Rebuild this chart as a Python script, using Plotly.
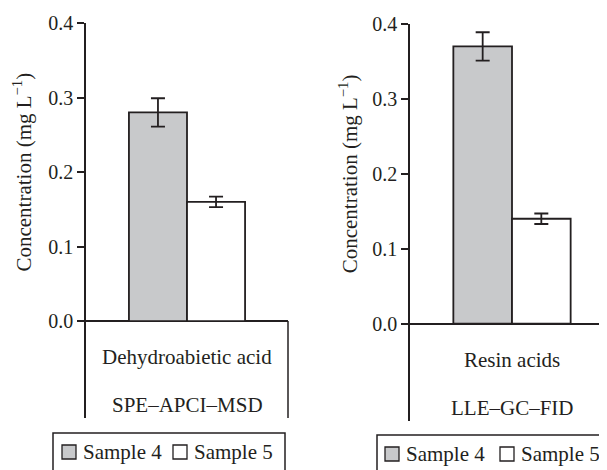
import plotly.graph_objects as go

# ---- data ----
series_names = ["Sample 4", "Sample 5"]
left_category = ["Dehydroabietic acid"]
left_method = "SPE–APCI–MSD"
left_values = {"Sample 4": [0.28], "Sample 5": [0.16]}
left_errors = {"Sample 4": [0.019], "Sample 5": [0.007]}

right_category = ["Resin acids"]
right_method = "LLE–GC–FID"
right_values = {"Sample 4": [0.37], "Sample 5": [0.14]}
right_errors = {"Sample 4": [0.019], "Sample 5": [0.007]}

y_ticks = [0.0, 0.1, 0.2, 0.3, 0.4]
y_title = "Concentration (mg L<sup>−1</sup>)"

# ---- style ----
FONT = '"Liberation Serif", "Times New Roman", Times, serif'
INK = "#231f20"
fills = {"Sample 4": "#c8c9cb", "Sample 5": "#ffffff"}

# the page places the figure 8 px in from the top-left corner
OFF = 8
W, H = 607 - OFF, 470 - OFF


def px(x):
    return (x - OFF) / W


def py(y):
    return 1 - (y - OFF) / H


fig = go.Figure()

for cats, vals, errs, xa, ya in [
    (left_category, left_values, left_errors, "x", "y"),
    (right_category, right_values, right_errors, "x2", "y2"),
]:
    for s in series_names:
        fig.add_trace(go.Bar(
            x=cats, y=vals[s], name=s, showlegend=False,
            marker=dict(color=fills[s], line=dict(color=INK, width=1.8)),
            error_y=dict(type="data", array=errs[s], color=INK, thickness=1.8, width=7),
            xaxis=xa, yaxis=ya,
        ))

axis_common = dict(showgrid=False, zeroline=False, automargin=False)
yaxis_common = dict(
    range=[-0.13, 0.4], tickvals=y_ticks, tickformat=".1f",
    ticks="outside", ticklen=7, tickwidth=1.5, tickcolor=INK,
    showline=True, linecolor=INK, linewidth=1.5,
    zeroline=True, zerolinecolor=INK, zerolinewidth=1.5,
    showgrid=False, automargin=False,
    tickfont=dict(family=FONT, size=20, color=INK),
)

fig.update_layout(
    width=W, height=H,
    margin=dict(l=0, r=0, t=0, b=0),
    paper_bgcolor="white", plot_bgcolor="white",
    barmode="group", bargap=0.425, bargroupgap=0,
    font=dict(family=FONT, color=INK),
    showlegend=False,
    xaxis=dict(domain=[px(86), px(288)], range=[-0.5, 0.5], anchor="y",
               showticklabels=False, ticks="", showline=False, **axis_common),
    xaxis2=dict(domain=[px(410), 1.0], range=[-0.5, 0.4657], anchor="y2",
                showticklabels=False, ticks="", showline=False, **axis_common),
    yaxis=dict(domain=[py(418), py(23)], anchor="x", **yaxis_common),
    yaxis2=dict(domain=[py(421), py(24)], anchor="x2", **yaxis_common),
)

# y-axis titles, centred on the 0–0.4 tick span
for title_x, ya in [(22.5, "y"), (348.5, "y2")]:
    fig.add_annotation(x=px(title_x), y=(y_ticks[0] + y_ticks[-1]) / 2, xref="paper", yref=ya,
                       text=y_title, textangle=-90, showarrow=False,
                       xanchor="center", yanchor="middle",
                       font=dict(family=FONT, size=21, color=INK))

# category and method labels below the zero line
for cats, method, xa, ya in [
    (left_category, left_method, "x", "y"),
    (right_category, right_method, "x2", "y2"),
]:
    fig.add_annotation(x=cats[0], y=-0.048, xref=xa, yref=ya, text=cats[0],
                       showarrow=False, font=dict(family=FONT, size=21, color=INK))
    fig.add_annotation(x=cats[0], y=-0.112, xref=xa, yref=ya, text=method,
                       showarrow=False, font=dict(family=FONT, size=21, color=INK))

# right edge of the category box in the left panel
fig.add_shape(type="line", xref="x domain", yref="y", x0=1, x1=1, y0=0, y1=-0.13,
              line=dict(color=INK, width=1.5))

# legends (one under each panel)
for box_left, box_top, sw_lefts in [(53, 433, [62, 173]), (377, 435, [385, 500])]:
    fig.add_shape(type="rect", xref="paper", yref="paper",
                  x0=px(box_left), x1=px(box_left + 232), y0=py(box_top), y1=py(480),
                  line=dict(color=INK, width=1.5), fillcolor="white", layer="above")
    cy = box_top + 19
    for s, sl in zip(series_names, sw_lefts):
        fig.add_shape(type="rect", xref="paper", yref="paper",
                      x0=px(sl), x1=px(sl + 14), y0=py(cy - 7), y1=py(cy + 7),
                      line=dict(color=INK, width=1.3), fillcolor=fills[s], layer="above")
        fig.add_annotation(x=px(sl + 19), y=py(cy), xref="paper", yref="paper",
                           xanchor="left", yanchor="middle", text=s, showarrow=False,
                           font=dict(family=FONT, size=21, color=INK))

fig.write_html("out.html")
